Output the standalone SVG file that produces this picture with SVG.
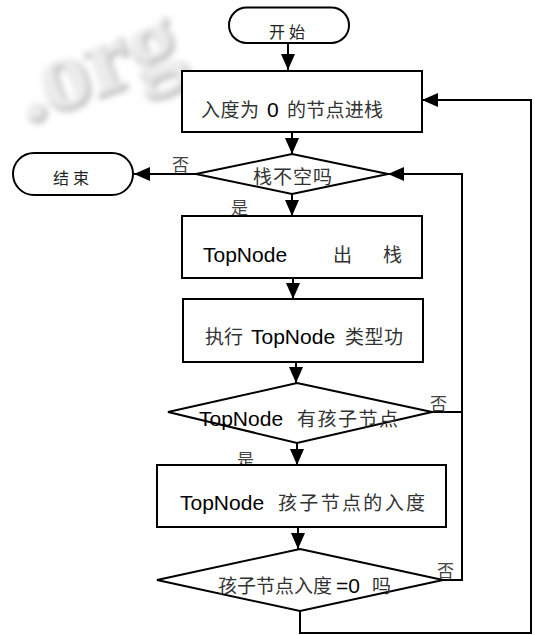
<svg xmlns="http://www.w3.org/2000/svg" width="535" height="635" viewBox="0 0 535 635">
  <style>
    .shape { fill: #fff; stroke: #000; stroke-width: 2; }
    .wire { fill: none; stroke: #000; stroke-width: 2; }
    .lat { font-family: "Liberation Sans", Arial, sans-serif; font-size: 21px; fill: #000; }
    .cjk { font-family: "Noto Sans CJK SC", "Noto Sans CJK JP", sans-serif; font-size: 19px; fill: #333; }
    .term { font-family: "Noto Sans CJK SC", "Noto Sans CJK JP", sans-serif; font-size: 16px; fill: #222; letter-spacing: 4px; }
    .lbl { font-family: "Noto Sans CJK SC", "Noto Sans CJK JP", sans-serif; font-size: 17px; fill: #444; }
    .mark { font-family: "Liberation Serif", serif; font-weight: bold; font-size: 100px; }
  </style>
  <defs>
    <marker id="arrow" markerUnits="userSpaceOnUse" markerWidth="16" markerHeight="14" refX="16" refY="7" orient="auto">
      <path d="M0,0 L16,7 L0,14 z" fill="#000"/>
    </marker>
    <filter id="soft" x="-20%" y="-30%" width="140%" height="160%">
      <feGaussianBlur stdDeviation="3"/>
    </filter>
  </defs>
  <rect width="535" height="635" fill="#fff"/>

  <!-- faint embossed background mark -->
  <g id="backdrop" filter="url(#soft)">
    <text class="mark" transform="translate(28,124) rotate(-20)" fill="#bdbdbd" stroke="#a8a8a8" stroke-width="3">.org</text>
    <text class="mark" transform="translate(26,122) rotate(-20)" fill="#ececec">.org</text>
  </g>

  <!-- connectors -->
  <g id="connectors">
    <path class="wire" d="M288,43 V70" marker-end="url(#arrow)"/>
    <path class="wire" d="M292,132 V154" marker-end="url(#arrow)"/>
    <path class="wire" d="M196,174 H134" marker-end="url(#arrow)"/>
    <path class="wire" d="M292,194 V216" marker-end="url(#arrow)"/>
    <path class="wire" d="M293,278 V299" marker-end="url(#arrow)"/>
    <path class="wire" d="M296,362 V383" marker-end="url(#arrow)"/>
    <path class="wire" d="M297,443 V465" marker-end="url(#arrow)"/>
    <path class="wire" d="M298,527 V549" marker-end="url(#arrow)"/>
    <path class="wire" d="M432,412 H462"/>
    <path class="wire" d="M443,580 H462 V174 H388" marker-end="url(#arrow)"/>
    <path class="wire" d="M300,611 V633 H531 V100 H422" marker-end="url(#arrow)"/>
    <text class="lbl" x="172" y="171">否</text>
    <text class="lbl" x="231" y="214">是</text>
    <text class="lbl" x="430" y="410">否</text>
    <text class="lbl" x="237" y="466">是</text>
    <text class="lbl" x="437" y="577">否</text>
  </g>

  <g id="start">
    <rect class="shape" x="229" y="7.5" width="120" height="35.5" rx="17.75"/>
    <text class="term" x="269" y="38">开始</text>
  </g>

  <g id="push-zero-indegree">
    <rect class="shape" x="182" y="71" width="240" height="61"/>
    <text class="cjk" x="201" y="117" textLength="58" lengthAdjust="spacing">入度为</text>
    <text class="lat" x="267" y="117">0</text>
    <text class="cjk" x="287" y="117" textLength="96" lengthAdjust="spacing">的节点进栈</text>
  </g>

  <g id="stack-not-empty">
    <polygon class="shape" points="292,154 388,174 292,194 196,174"/>
    <text class="cjk" x="253" y="184" textLength="79" lengthAdjust="spacing">栈不空吗</text>
  </g>

  <g id="end">
    <rect class="shape" x="13" y="153" width="120" height="42" rx="21"/>
    <text class="term" x="53" y="184">结束</text>
  </g>

  <g id="pop-top">
    <rect class="shape" x="182" y="216" width="240" height="62"/>
    <text class="lat" x="203" y="262">TopNode</text>
    <text class="cjk" x="333" y="262">出</text>
    <text class="cjk" x="383" y="262">栈</text>
  </g>

  <g id="run-top">
    <rect class="shape" x="183" y="299" width="240" height="63"/>
    <text class="cjk" x="205" y="344" textLength="38" lengthAdjust="spacing">执行</text>
    <text class="lat" x="251" y="344">TopNode</text>
    <text class="cjk" x="345" y="344" textLength="58" lengthAdjust="spacing">类型功</text>
  </g>

  <g id="has-children">
    <polygon class="shape" points="297,383 432,412 297,443 168,412"/>
    <text class="lat" x="199" y="426">TopNode</text>
    <text class="cjk" x="297" y="426" textLength="101" lengthAdjust="spacing">有孩子节点</text>
  </g>

  <g id="child-indegree">
    <rect class="shape" x="157" y="465" width="289" height="62"/>
    <text class="lat" x="180" y="510">TopNode</text>
    <text class="cjk" x="278" y="510" textLength="147" lengthAdjust="spacing">孩子节点的入度</text>
  </g>

  <g id="indegree-zero">
    <polygon class="shape" points="300,549 443,580 300,611 157,580"/>
    <text class="cjk" x="218" y="593" textLength="114" lengthAdjust="spacing">孩子节点入度</text>
    <text class="lat" x="336" y="593">=0</text>
    <text class="cjk" x="372" y="593">吗</text>
  </g>
</svg>
